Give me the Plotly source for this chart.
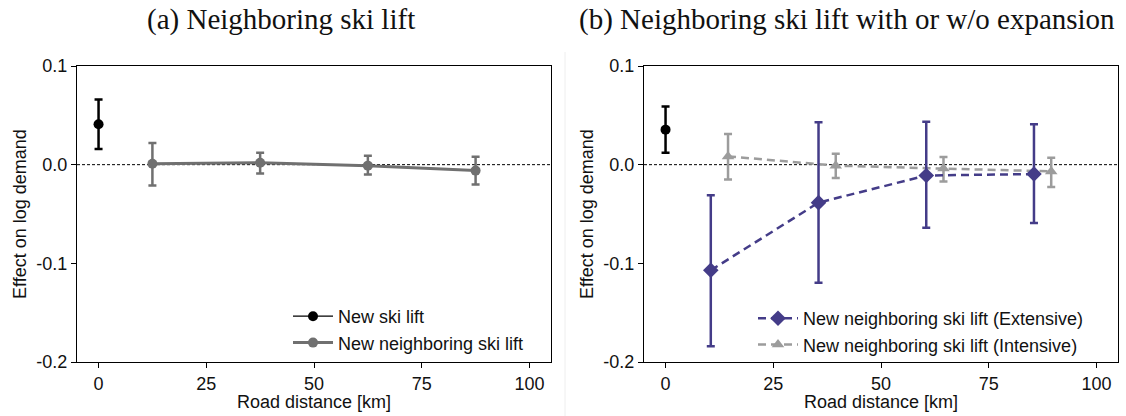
import plotly.graph_objects as go

# ---------------- data ----------------
ytick_vals = [0.1, 0.0, -0.1, -0.2]
ytick_text = ["0.1", "0.0", "-0.1", "-0.2"]
xtick_vals = [0, 25, 50, 75, 100]
xtick_text = ["0", "25", "50", "75", "100"]

# Panel (a)
ski_x = [0]
ski_y = [0.041]
ski_hi = [0.066]
ski_lo = [0.016]

nb_x = [12.5, 37.5, 62.5, 87.5]
nb_y = [0.001, 0.002, -0.001, -0.006]
nb_hi = [0.022, 0.012, 0.009, 0.008]
nb_lo = [-0.021, -0.009, -0.010, -0.020]

# Panel (b)
ski2_x = [0]
ski2_y = [0.0355]
ski2_hi = [0.059]
ski2_lo = [0.012]

ext_x = [10.5, 35.5, 60.5, 85.5]
ext_y = [-0.107, -0.0385, -0.011, -0.0095]
ext_hi = [-0.031, 0.043, 0.0435, 0.041]
ext_lo = [-0.184, -0.1196, -0.064, -0.059]

int_x = [14.5, 39.5, 64.5, 89.5]
int_y = [0.0084, -0.001, -0.004, -0.0068]
int_hi = [0.031, 0.011, 0.0077, 0.007]
int_lo = [-0.015, -0.0135, -0.017, -0.0227]

# ---------------- styles ----------------
W, H = 1126, 416
ML, MR, MT, MB = 0, 0, 66, 54
BLACK = "#000000"
GRAY_DARK = "#707070"
GRAY_LIGHT = "#9c9c9c"
PURPLE = "#443c88"
SANS = "Liberation Sans, Arial, sans-serif"
SERIF = "Liberation Serif, Times New Roman, serif"


def err(y, hi, lo, color, thick=2.5, width=4):
    return dict(type="data", symmetric=False,
                array=[h - v for h, v in zip(hi, y)],
                arrayminus=[v - l for l, v in zip(lo, y)],
                color=color, thickness=thick, width=width)


def px_x(p):
    return p / W


def px_y(p):
    return (H - MB - p) / (H - MT - MB)


fig = go.Figure()

# Panel (a)
fig.add_trace(go.Scatter(
    x=ski_x, y=ski_y, mode="lines+markers", name="New ski lift",
    line=dict(color=BLACK, width=1.2),
    marker=dict(color=BLACK, size=10, symbol="circle"),
    error_y=err(ski_y, ski_hi, ski_lo, BLACK),
    xaxis="x", yaxis="y", legend="legend"))
fig.add_trace(go.Scatter(
    x=nb_x, y=nb_y, mode="lines+markers", name="New neighboring ski lift",
    line=dict(color=GRAY_DARK, width=3),
    marker=dict(color=GRAY_DARK, size=10, symbol="circle"),
    error_y=err(nb_y, nb_hi, nb_lo, GRAY_DARK),
    xaxis="x", yaxis="y", legend="legend"))

# Panel (b)
fig.add_trace(go.Scatter(
    x=ski2_x, y=ski2_y, mode="markers", name="New ski lift",
    marker=dict(color=BLACK, size=10, symbol="circle"),
    error_y=err(ski2_y, ski2_hi, ski2_lo, BLACK),
    xaxis="x2", yaxis="y2", showlegend=False))
fig.add_trace(go.Scatter(
    x=int_x, y=int_y, mode="lines+markers",
    name="New neighboring ski lift (Intensive)",
    line=dict(color=GRAY_LIGHT, width=2.5, dash="8px,5px"),
    marker=dict(color=GRAY_LIGHT, size=11, symbol="triangle-up"),
    error_y=err(int_y, int_hi, int_lo, GRAY_LIGHT),
    xaxis="x2", yaxis="y2", legend="legend2", legendrank=2))
fig.add_trace(go.Scatter(
    x=ext_x, y=ext_y, mode="lines+markers",
    name="New neighboring ski lift (Extensive)",
    line=dict(color=PURPLE, width=2.5, dash="8px,5px"),
    marker=dict(color=PURPLE, size=12, symbol="diamond"),
    error_y=err(ext_y, ext_hi, ext_lo, PURPLE),
    xaxis="x2", yaxis="y2", legend="legend2", legendrank=1))

axis_common = dict(
    range=[-5, 105], tickvals=xtick_vals, ticktext=xtick_text,
    ticks="outside", ticklen=5, tickwidth=1, tickcolor=BLACK,
    showline=True, linecolor=BLACK, linewidth=1.2, mirror=True,
    showgrid=False, zeroline=False,
    tickfont=dict(family=SANS, size=18, color="#111111"))
yaxis_common = dict(
    range=[-0.2, 0.1], tickvals=ytick_vals, ticktext=ytick_text,
    ticks="outside", ticklen=5, tickwidth=1, tickcolor=BLACK,
    showline=True, linecolor=BLACK, linewidth=1.2, mirror=True,
    showgrid=False, zeroline=False,
    tickfont=dict(family=SANS, size=18, color="#111111"))

legend_font = dict(family=SANS, size=18, color="#111111")

fig.update_layout(
    width=W, height=H,
    margin=dict(l=ML, r=MR, t=MT, b=MB),
    paper_bgcolor="white", plot_bgcolor="white",
    xaxis=dict(axis_common, domain=[px_x(77), px_x(551)], anchor="y"),
    yaxis=dict(yaxis_common, domain=[0, 1], anchor="x"),
    xaxis2=dict(axis_common, domain=[px_x(644), px_x(1118)], anchor="y2"),
    yaxis2=dict(yaxis_common, domain=[0, 1], anchor="x2"),
    legend=dict(x=px_x(288), y=px_y(361), xanchor="left", yanchor="bottom",
                font=legend_font, bgcolor="rgba(0,0,0,0)", tracegroupgap=0,
                itemwidth=40),
    legend2=dict(x=px_x(753), y=px_y(363), xanchor="left", yanchor="bottom",
                 font=legend_font, bgcolor="rgba(0,0,0,0)", tracegroupgap=0,
                 itemwidth=40, traceorder="normal"),
    showlegend=True,
)

# zero reference lines
for xr, yr in (("x", "y"), ("x2", "y2")):
    fig.add_shape(type="line", xref=f"{xr} domain", yref=yr,
                  x0=0, x1=1, y0=0, y1=0,
                  line=dict(color=BLACK, width=1, dash="3px,2px"), layer="below")

# faint separator between panels
fig.add_shape(type="line", xref="paper", yref="paper",
              x0=px_x(565), x1=px_x(565), y0=px_y(52), y1=px_y(416),
              line=dict(color="#eeeeee", width=1))

annotations = [
    dict(text="(a) Neighboring ski lift", x=px_x(281), y=px_y(20),
         font=dict(family=SERIF, size=29, color="#111111")),
    dict(text="(b) Neighboring ski lift with or w/o expansion", x=px_x(847), y=px_y(20),
         font=dict(family=SERIF, size=29, color="#111111")),
    dict(text="Effect on log demand", x=px_x(20), y=px_y(214), textangle=-90,
         font=dict(family=SANS, size=18, color="#111111")),
    dict(text="Effect on log demand", x=px_x(587), y=px_y(214), textangle=-90,
         font=dict(family=SANS, size=18, color="#111111")),
    dict(text="Road distance [km]", x=px_x(314), y=px_y(402),
         font=dict(family=SANS, size=18, color="#111111")),
    dict(text="Road distance [km]", x=px_x(881), y=px_y(402),
         font=dict(family=SANS, size=18, color="#111111")),
]
for a in annotations:
    fig.add_annotation(xref="paper", yref="paper", showarrow=False,
                       xanchor="center", yanchor="middle", **a)

fig.write_html("out.html")
